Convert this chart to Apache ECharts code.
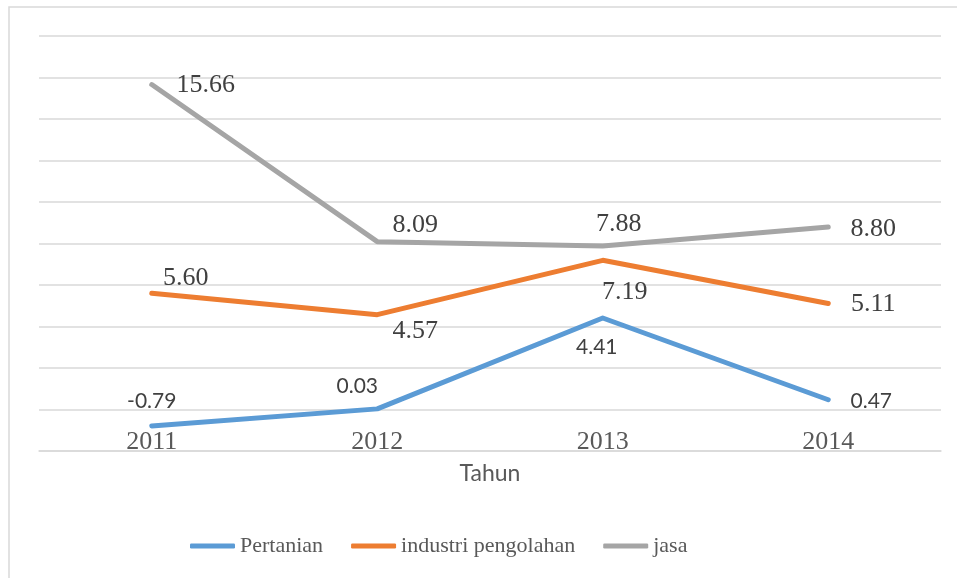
<!DOCTYPE html>
<html>
<head>
<meta charset="utf-8">
<title>Pertumbuhan sektor</title>
<script src="https://cdn.jsdelivr.net/npm/echarts@6/dist/echarts.min.js"></script>
<style>
  html, body { margin: 0; padding: 0; background: #fff; }
  #chart_box { width: 957px; height: 578px; }
</style>
</head>
<body>
<div id="chart_box"></div>
<script>
// data
var years = ['2011', '2012', '2013', '2014'];
var pertanian = [-0.79, 0.03, 4.41, 0.47];
var industri = [5.60, 4.57, 7.19, 5.11];
var jasa = [15.66, 8.09, 7.88, 8.80];
var seriesNames = ['Pertanian', 'industri pengolahan', 'jasa'];

// label offsets (px) relative to each point, like the moved labels in the original
var offPertanian = [[0, -25], [-20, -23], [-6, 29], [43, 1]];
var offIndustri = [[34, -15], [38, 16], [22, 32], [45, 1]];
var offJasa = [[54, 1], [38, -16], [16, -22], [45, 2]];

var serif = '"Liberation Serif", "Times New Roman", serif';
var sans = 'Lato, "Open Sans", sans-serif';

function withLabels(values, offsets, font, size) {
    return values.map(function (v, i) {
        return {
            value: v,
            label: {
                show: true,
                position: 'inside',
                offset: offsets[i],
                formatter: function (p) { return p.value.toFixed(2); },
                fontFamily: font,
                fontSize: size,
                color: '#404040'
            }
        };
    });
}

function lineSeries(name, values, offsets, color, font, size) {
    return {
        name: name,
        type: 'line',
        symbol: 'circle',
        symbolSize: 0.1,
        showSymbol: true,
        data: withLabels(values, offsets, font, size),
        lineStyle: { color: color, width: 5, cap: 'round', join: 'round' },
        itemStyle: { color: color },
        z: 3
    };
}

var mychart = echarts.init(document.getElementById('chart_box'));
var option = {
    backgroundColor: '#fff',
    animation: false,
    graphic: [{
        type: 'rect',
        shape: { x: 9, y: 7, width: 1000, height: 700 },
        style: { fill: 'none', stroke: '#d9d9d9', lineWidth: 1.5 },
        silent: true
    }],
    grid: { left: 39, right: 16, top: 36, bottom: 127 },
    legend: {
        left: 185,
        top: 530,
        itemWidth: 45,
        itemHeight: 5,
        itemGap: 28,
        icon: 'roundRect',
        data: seriesNames,
        textStyle: { fontFamily: serif, fontSize: 22, color: '#595959' }
    },
    xAxis: {
        type: 'category',
        data: years,
        boundaryGap: true,
        name: 'Tahun',
        nameLocation: 'middle',
        nameGap: 11,
        nameTextStyle: { fontFamily: sans, fontSize: 23, color: '#595959' },
        axisLine: { show: true, onZero: false, lineStyle: { color: '#d9d9d9', width: 1.5 } },
        axisTick: { show: false },
        // labels sit just under the zero line, as in the original
        axisLabel: { margin: -22, fontFamily: serif, fontSize: 26, color: '#595959' }
    },
    yAxis: {
        type: 'value',
        min: -2,
        max: 18,
        interval: 2,
        axisLine: { show: false },
        axisTick: { show: false },
        axisLabel: { show: false },
        splitLine: { lineStyle: { color: '#d9d9d9', width: 1.5 } }
    },
    series: [
        lineSeries(seriesNames[0], pertanian, offPertanian, '#5b9bd5', sans, 21),
        lineSeries(seriesNames[1], industri, offIndustri, '#ed7d31', serif, 26),
        lineSeries(seriesNames[2], jasa, offJasa, '#a5a5a5', serif, 26)
    ]
};
mychart.setOption(option);
</script>
</body>
</html>
